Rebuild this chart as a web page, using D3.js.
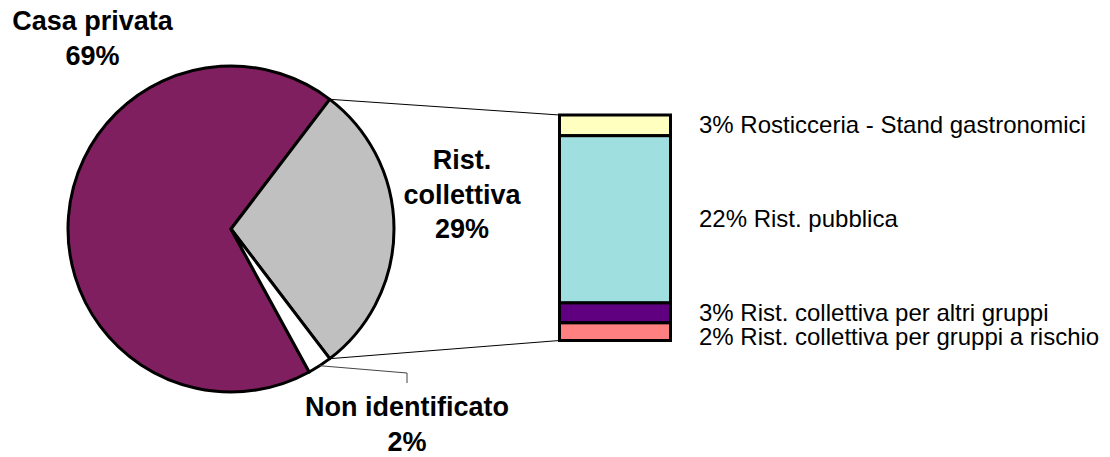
<!DOCTYPE html>
<html>
  <head>
    <meta charset="utf-8">
    <script src="https://unpkg.com/d3@7/dist/d3.min.js"></script>
    <style>
      body {
        margin: 0;
        background: #ffffff;
      }

      text {
        font-family: "Liberation Sans", Arial, sans-serif;
        fill: #000000;
      }

      .pie-label {
        font-size: 27px;
        font-weight: bold;
        text-anchor: middle;
      }

      .bar-label {
        font-size: 24px;
      }

      .connector {
        fill: none;
        stroke: #000000;
        stroke-width: 1px;
      }
    </style>
  </head>
  <body>
    <script>
      // main pie
      const pieNames = [['Casa privata'], ['Rist.', 'collettiva'], ['Non identificato']];
      const pieValues = [68.6, 29.4, 2.4];
      const pieColors = ['#7f1f5f', '#c0c0c0', '#ffffff'];

      // breakdown of "Rist. collettiva" (top to bottom)
      const barNames = [
        'Rosticceria - Stand gastronomici',
        'Rist. pubblica',
        'Rist. collettiva per altri gruppi',
        'Rist. collettiva per gruppi a rischio'
      ];
      const barValues = [2.7, 21.8, 2.6, 2.3];
      const barColors = ['#ffffc0', '#a0dfe0', '#600080', '#ff8080'];

      const width = 1110;
      const height = 457;

      const cx = 231;
      const cy = 229;
      const radius = 163;

      const barX0 = 559.5;
      const barX1 = 670.5;

      const pct = v => `${Math.round(v)}%`;

      const svg = d3.select('body')
        .append('svg')
        .attr('width', width)
        .attr('height', height);

      // rotate so the split slice is centred on the right side
      const total = d3.sum(pieValues);
      const otherAngle = pieValues[1] / total * 2 * Math.PI;
      const casaAngle = pieValues[0] / total * 2 * Math.PI;
      const start = Math.PI / 2 - otherAngle / 2 - casaAngle;

      const pie = d3.pie()
        .sort(null)
        .startAngle(start)
        .endAngle(start + 2 * Math.PI);

      const arcs = pie(pieValues);

      const arc = d3.arc()
        .innerRadius(0)
        .outerRadius(radius);

      const g = svg.append('g')
        .attr('transform', `translate(${cx},${cy})`);

      g.selectAll('path')
        .data(arcs)
        .enter()
        .append('path')
        .attr('d', arc)
        .style('fill', (d, i) => pieColors[i])
        .style('stroke', '#000')
        .style('stroke-width', 3)
        .style('stroke-linejoin', 'round');

      const onCircle = a => [cx + radius * Math.sin(a), cy - radius * Math.cos(a)];

      // stacked bar
      const yBar = d3.scaleLinear()
        .domain([0, d3.sum(barValues)])
        .range([115, 340.5]);

      const stacked = barValues.map((v, i) => ({
        v,
        y0: d3.sum(barValues.slice(0, i)),
        y1: d3.sum(barValues.slice(0, i + 1))
      }));

      // connectors
      const other = arcs[1];
      const pTop = onCircle(other.startAngle);
      const pBot = onCircle(other.endAngle);

      svg.append('line')
        .classed('connector', true)
        .attr('x1', pTop[0]).attr('y1', pTop[1])
        .attr('x2', barX0).attr('y2', yBar(0));

      svg.append('line')
        .classed('connector', true)
        .attr('x1', pBot[0]).attr('y1', pBot[1])
        .attr('x2', barX0).attr('y2', yBar(d3.sum(barValues)));

      svg.selectAll('rect.seg')
        .data(stacked)
        .enter()
        .append('rect')
        .classed('seg', true)
        .attr('x', barX0)
        .attr('width', barX1 - barX0)
        .attr('y', d => yBar(d.y0))
        .attr('height', d => yBar(d.y1) - yBar(d.y0))
        .style('fill', (d, i) => barColors[i])
        .style('stroke', '#000')
        .style('stroke-width', 3);

      // bar labels, pushed apart when too close
      let lastBase = -Infinity;
      stacked.forEach((d, i) => {
        let base = (yBar(d.y0) + yBar(d.y1)) / 2 + 8;
        base = Math.max(base, lastBase + 24.5);
        lastBase = base;
        svg.append('text')
          .classed('bar-label', true)
          .attr('x', 699)
          .attr('y', base)
          .text(`${pct(d.v)} ${barNames[i]}`);
      });

      // pie labels
      const pieLabelPos = [[92.5, 30], [462, 169], [407, 416]];
      pieNames.forEach((lines, i) => {
        const t = svg.append('text')
          .classed('pie-label', true)
          .attr('x', pieLabelPos[i][0])
          .attr('y', pieLabelPos[i][1]);
        lines.concat([pct(pieValues[i])]).forEach((s, k) => {
          t.append('tspan')
            .attr('x', pieLabelPos[i][0])
            .attr('dy', k === 0 ? 0 : 34.5)
            .text(s);
        });
      });

      // leader for the small slice
      const small = arcs[2];
      const pSmall = onCircle((small.startAngle + small.endAngle) / 2);
      svg.append('polyline')
        .classed('connector', true)
        .style('stroke', '#444')
        .attr('points', [pSmall, [407, 373], [407, 383]].map(p => p.join(',')).join(' '));
    </script>
  </body>
</html>
